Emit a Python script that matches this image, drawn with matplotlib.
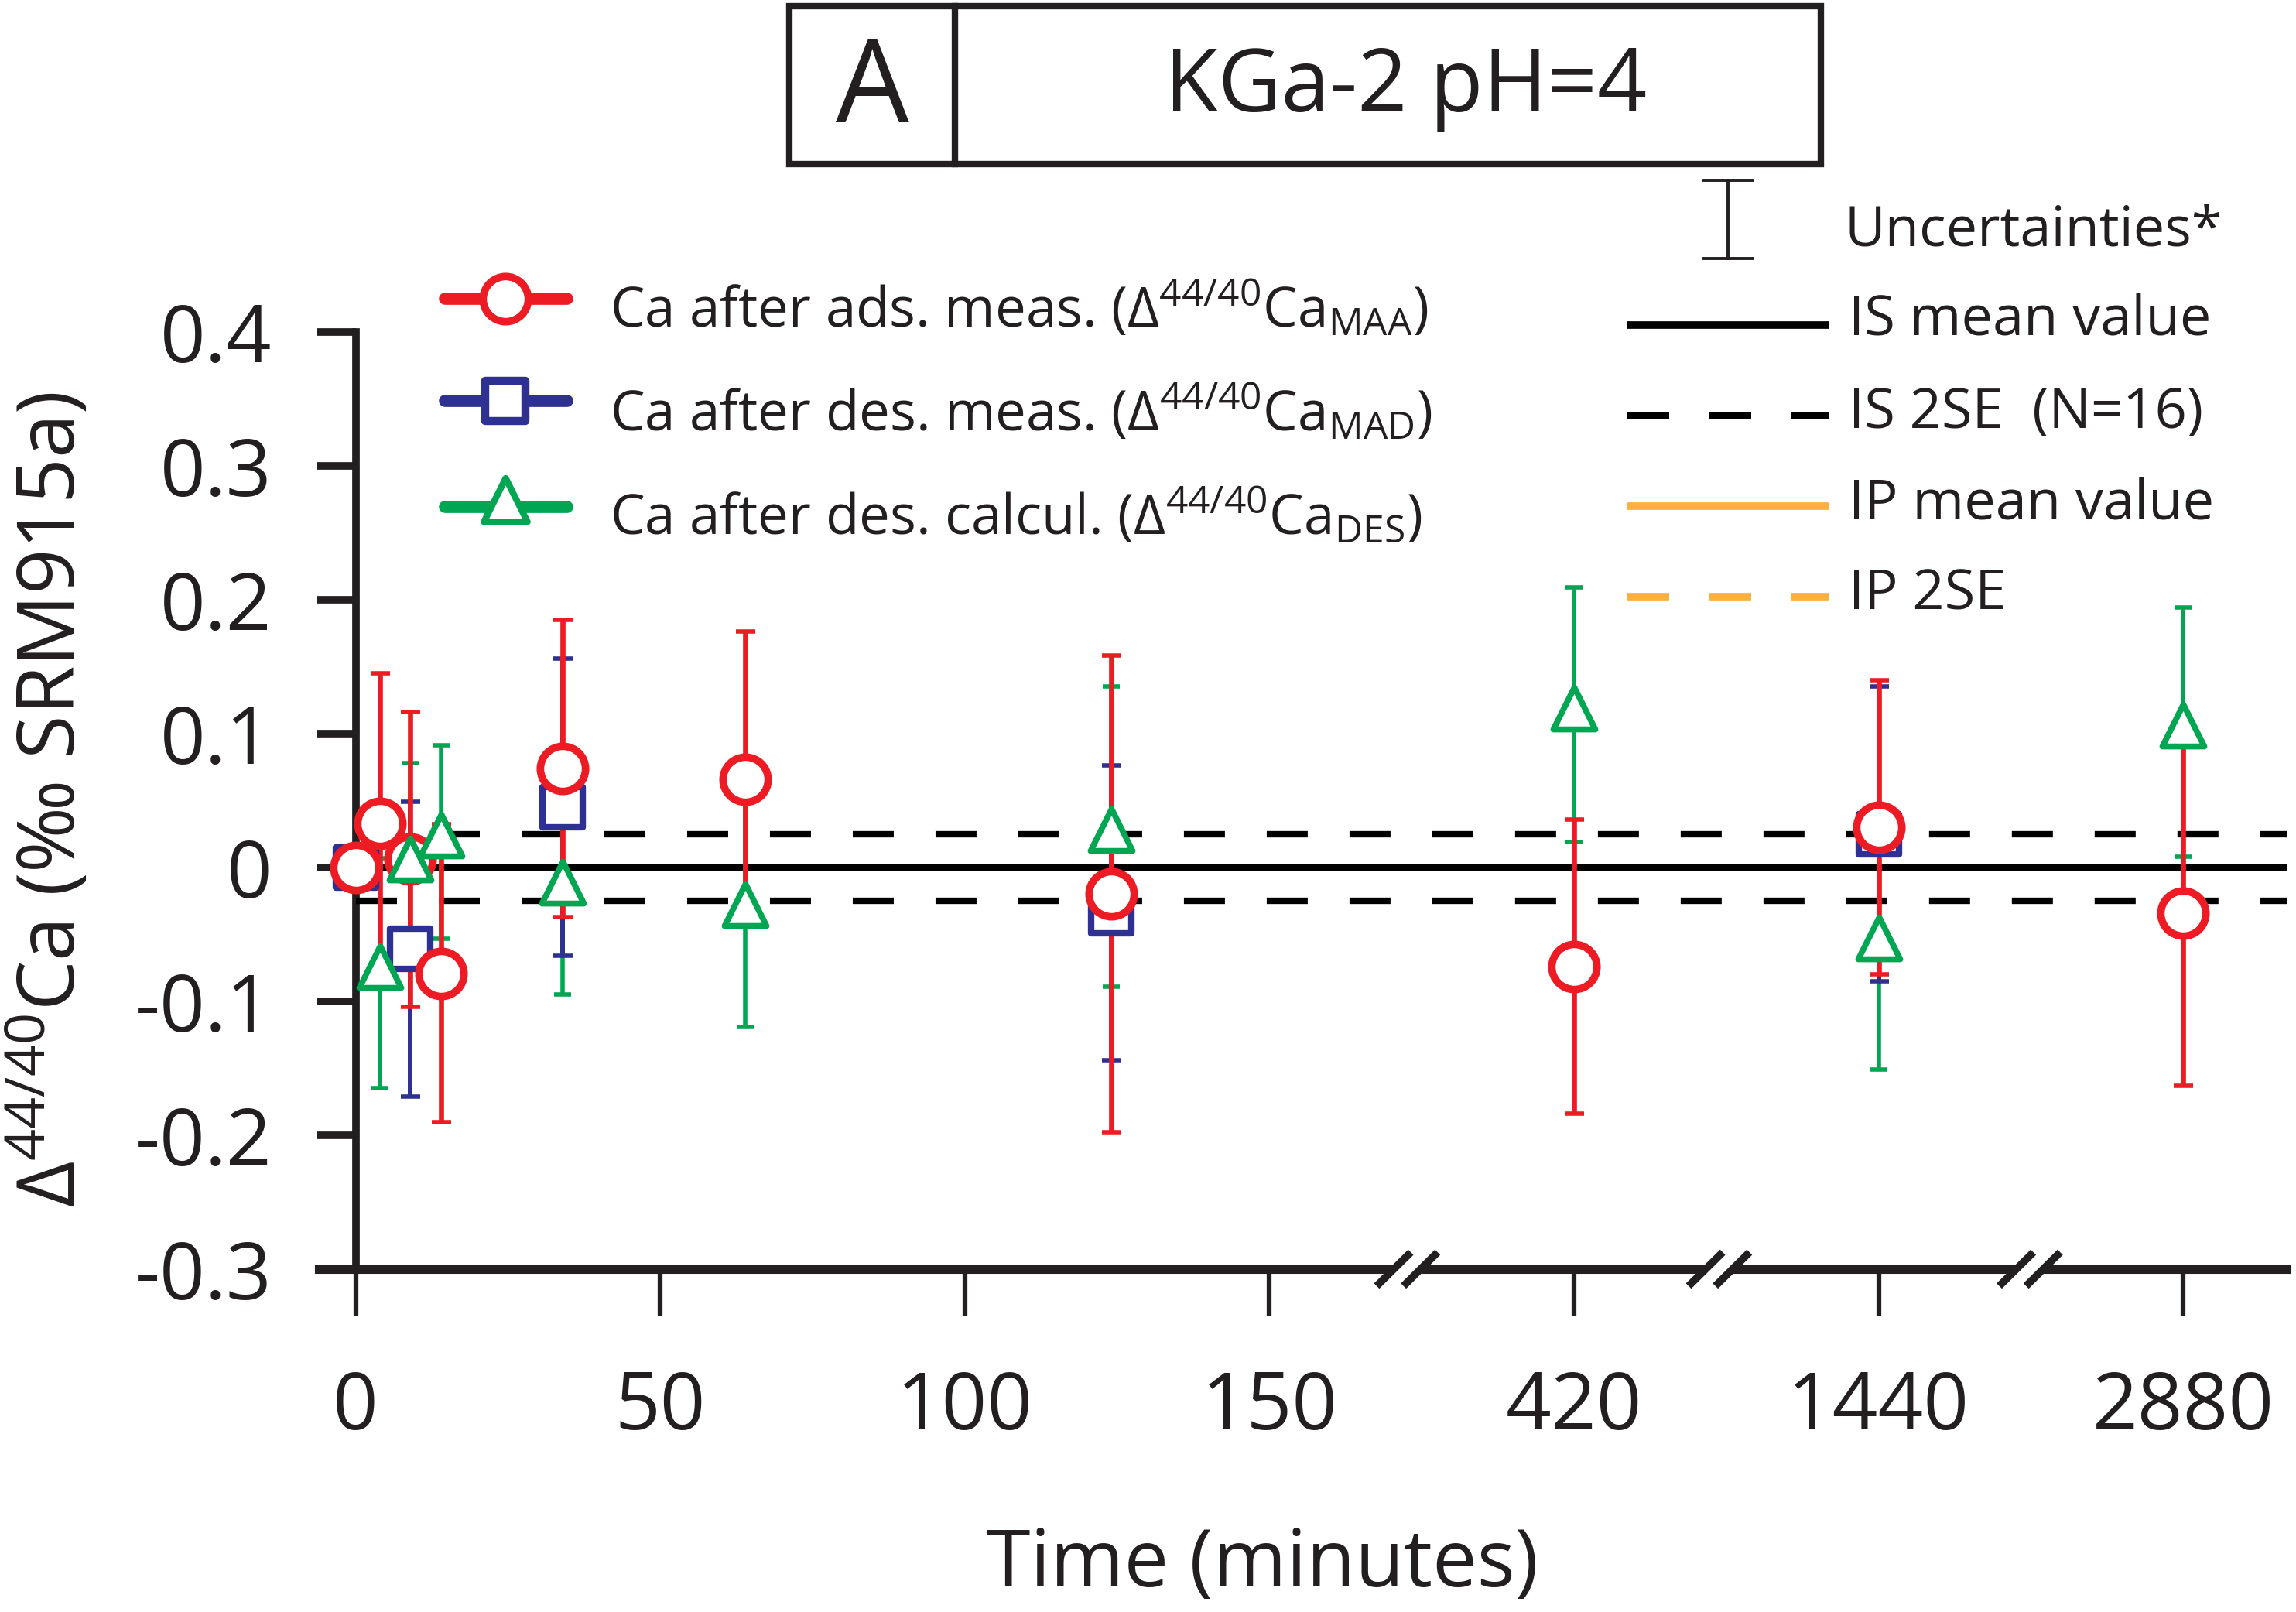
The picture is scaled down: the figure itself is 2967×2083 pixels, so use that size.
import numpy as np
import matplotlib
matplotlib.use("Agg")
import matplotlib.pyplot as plt
from matplotlib.lines import Line2D
from matplotlib.patches import Rectangle
from matplotlib.path import Path
from matplotlib.markers import MarkerStyle

plt.rcParams['font.family'] = ['Open Sans', 'DejaVu Sans']
plt.rcParams['mathtext.fontset'] = 'custom'
plt.rcParams['mathtext.rm'] = 'Open Sans'
plt.rcParams['mathtext.it'] = 'Open Sans:italic'
plt.rcParams['mathtext.bf'] = 'Open Sans:bold'

RED = '#ED1C24'
BLUE = '#2E3192'
GREEN = '#00A651'
ORANGE = '#FBB040'
INK = '#231F20'

# broken time axis: linear up to 150 min, then one slot per long time
tick_minutes = [0, 50, 100, 150, 420, 1440, 2880]
tick_pos = [0, 50, 100, 150, 200, 250, 300]
break_pos = [172.6, 223.8, 274.8]

# Ca after adsorption, measured (MAA)
red_t = [0, 4, 9, 14, 34, 64, 124, 420, 1440, 2880]
red_y = [0.000, 0.033, 0.006, -0.079, 0.074, 0.066, -0.020, -0.074, 0.030, -0.034]
red_err = [0.0, 0.112, 0.110, 0.111, 0.111, 0.110, 0.178, 0.110, 0.110, 0.129]

# Ca after desorption, measured (MAD)
blue_t = [0, 9, 34, 124, 1440]
blue_y = [0.000, -0.061, 0.045, -0.034, 0.025]
blue_err = [0.0, 0.110, 0.111, 0.110, 0.110]

# Ca after desorption, calculated (DES)
green_t = [4, 9, 14, 34, 64, 124, 420, 1440, 2880]
green_y = [-0.079, 0.001, 0.019, -0.016, -0.033, 0.023, 0.114, -0.058, 0.101]
green_err = [0.086, 0.077, 0.072, 0.079, 0.086, 0.112, 0.095, 0.093, 0.093]

IS_MEAN = 0.0
IS_2SE = 0.025

y_ticks = [-0.3, -0.2, -0.1, 0.0, 0.1, 0.2, 0.3, 0.4]
y_labels = ['-0.3', '-0.2', '-0.1', '0', '0.1', '0.2', '0.3', '0.4']

W, H = 2967, 2083


def axis_pos(minutes):
    m = dict(zip(tick_minutes, tick_pos))
    return np.array([m.get(t, t) for t in minutes], dtype=float)


def fx(px):
    return px / W


def fy(py):
    return 1 - py / H


def dash(on_px, off_px, lw):
    # dash lengths given in pixels, converted to linewidth units
    return (0, (on_px / 1.389 / lw, off_px / 1.389 / lw))


tri = Path([(0, 2 / 3), (-0.5, -1 / 3), (0.5, -1 / 3), (0, 0)], closed=True)
square = MarkerStyle('s', joinstyle='round')

fig = plt.figure(figsize=(W / 100, H / 100), dpi=100)
ax = fig.add_axes([0.139, 0.2127, 0.857, 0.5815])
ax.set_xlim(-6, 317)
ax.set_ylim(-0.3, 0.4)

for s in ['top', 'right']:
    ax.spines[s].set_visible(False)
ax.spines['left'].set_position(('data', 0))
ax.spines['left'].set_bounds(-0.3, 0.4)
ax.spines['left'].set_linewidth(7)
ax.spines['bottom'].set_linewidth(8)
ax.spines['left'].set_color(INK)
ax.spines['bottom'].set_color(INK)

ax.set_yticks(y_ticks)
ax.set_yticklabels(y_labels)
ax.set_xticks(tick_pos)
ax.set_xticklabels([str(t) for t in tick_minutes])
ax.tick_params(axis='y', direction='out', length=36, width=7, pad=42,
               labelsize=74, color=INK, labelcolor=INK)
ax.tick_params(axis='x', direction='out', length=43, width=4.5, pad=50,
               labelsize=74, color=INK, labelcolor=INK)

# IS reference lines
ax.plot([-1.6, 317], [IS_MEAN, IS_MEAN], color='black', lw=6, zorder=3,
        solid_capstyle='butt')
for v in (IS_MEAN + IS_2SE, IS_MEAN - IS_2SE):
    ax.plot([0, 317], [v, v], color='black', lw=6, zorder=3,
            ls=dash(53, 54, 6), dash_capstyle='butt')

# error bars first, markers on top
ax.errorbar(axis_pos(green_t), green_y, yerr=green_err, fmt='none',
            ecolor=GREEN, elinewidth=4, capsize=8, capthick=4, zorder=3.2)
ax.errorbar(axis_pos(blue_t), blue_y, yerr=blue_err, fmt='none',
            ecolor=BLUE, elinewidth=4.3, capsize=9, capthick=4, zorder=3.3)
ax.errorbar(axis_pos(red_t), red_y, yerr=red_err, fmt='none',
            ecolor=RED, elinewidth=4.8, capsize=9, capthick=4, zorder=3.4)

ax.plot(axis_pos(blue_t), blue_y, ls='none', marker=square, ms=37, mew=6,
        mec=BLUE, mfc='white', zorder=4)
ax.plot(axis_pos(red_t), red_y, ls='none', marker='o', ms=42, mew=7,
        mec=RED, mfc='white', zorder=4.1)
ax.plot(axis_pos(green_t), green_y, ls='none', marker=tri, ms=52, mew=5.5,
        mec=GREEN, mfc='white', zorder=4.2)

# axis break marks
xt = ax.get_xaxis_transform()
for bx in break_pos:
    ax.plot([bx - 2.2, bx + 2.2], [0, 0], transform=xt, color='white', lw=14,
            solid_capstyle='butt', clip_on=False, zorder=5)
    for off in (-2.2, 2.2):
        ax.plot([bx + off - 2.8, bx + off + 2.8], [-0.018, 0.018], transform=xt,
                color=INK, lw=7, solid_capstyle='butt', clip_on=False, zorder=6)

# axis labels
fig.text(fx(97), fy(1033), r'Δ$^{\mathrm{44/40}}$Ca (‰ SRM915a)', rotation=90,
         rotation_mode='anchor', ha='center', va='baseline', fontsize=74,
         color=INK)
fig.text(fx(1631), fy(2050), 'Time (minutes)', ha='center', va='baseline',
         fontsize=74, color=INK)

# title box
fig.add_artist(Rectangle((fx(1020), fy(212)), fx(2353) - fx(1020), fy(8) - fy(212),
                         transform=fig.transFigure, fill=False, lw=6,
                         edgecolor=INK))
fig.add_artist(Line2D([fx(1234), fx(1234)], [fy(8), fy(212)],
                      transform=fig.transFigure, color=INK, lw=6))
fig.text(fx(1127), fy(157.7), 'A', ha='center', va='baseline', fontsize=108,
         color=INK)
fig.text(fx(1817), fy(144), 'KGa-2 pH=4', ha='center', va='baseline',
         fontsize=81, color=INK)

# series legend (left)
series_rows = [
    (RED, 'o', 42, 7, 385.7, 423, r'Ca after ads. meas. (Δ$^{\mathrm{44/40}}$Ca$_{\mathrm{MAA}}$)'),
    (BLUE, square, 37, 7.5, 518, 556.7, r'Ca after des. meas. (Δ$^{\mathrm{44/40}}$Ca$_{\mathrm{MAD}}$)'),
    (GREEN, tri, 54, 6, 655, 690, r'Ca after des. calcul. (Δ$^{\mathrm{44/40}}$Ca$_{\mathrm{DES}}$)'),
]
for color, mk, ms, mew, ry, base, label in series_rows:
    fig.add_artist(Line2D([fx(575), fx(733)], [fy(ry), fy(ry)],
                          transform=fig.transFigure, color=color, lw=11.3,
                          solid_capstyle='round'))
    fig.add_artist(Line2D([fx(653)], [fy(ry)], transform=fig.transFigure,
                          ls='none', marker=mk, ms=ms, mew=mew, mec=color,
                          mfc='white'))
    fig.text(fx(788), fy(base), label, ha='left', va='baseline', fontsize=51,
             color=INK)

# reference legend (right)
fig.add_artist(Line2D([fx(2233), fx(2233)], [fy(233.4), fy(334)],
                      transform=fig.transFigure, color=INK, lw=2.8))
for cy in (233.4, 334):
    fig.add_artist(Line2D([fx(2202), fx(2265)], [fy(cy), fy(cy)],
                          transform=fig.transFigure, color=INK, lw=2.8))
fig.text(fx(2383), fy(317.6), 'Uncertainties*', ha='left', va='baseline',
         fontsize=52, color=INK)

ref_rows = [
    ('black', '-', 419.8, 434, 'IS mean value'),
    ('black', '--', 537, 553, 'IS 2SE  (N=16)'),
    (ORANGE, '-', 653.6, 671.6, 'IP mean value'),
    (ORANGE, '--', 771, 788, 'IP 2SE'),
]
for color, style, ly, base, label in ref_rows:
    ls = '-' if style == '-' else dash(54, 52, 7)
    fig.add_artist(Line2D([fx(2103), fx(2364)], [fy(ly), fy(ly)],
                          transform=fig.transFigure, color=color, lw=7,
                          ls=ls, solid_capstyle='butt', dash_capstyle='butt'))
    fig.text(fx(2389), fy(base), label, ha='left', va='baseline', fontsize=52,
             color=INK)

fig.savefig('out.png', dpi=100)
